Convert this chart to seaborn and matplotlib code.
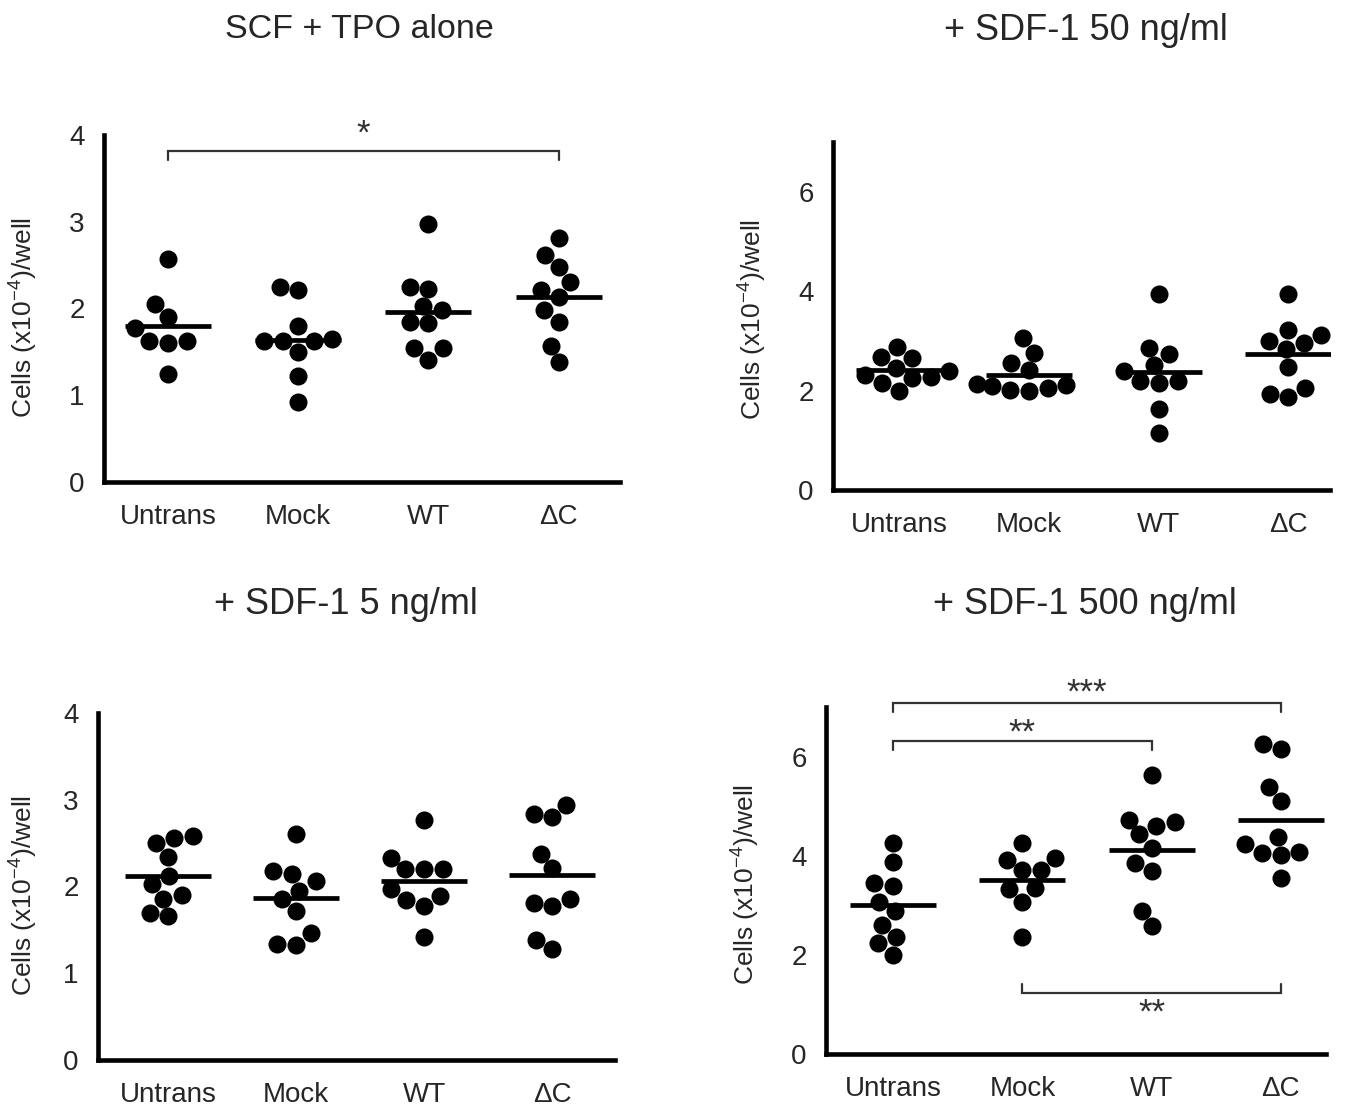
import numpy as np
import pandas as pd
import matplotlib
matplotlib.use("Agg")
import matplotlib.pyplot as plt
import seaborn as sns

# ---- data: cells (x10^-4) per well ----
groups = ["Untrans", "Mock", "WT", "ΔC"]

alone_untrans = [2.57, 2.05, 1.90, 1.77, 1.63, 1.60, 1.63, 1.24]
alone_mock = [2.21, 2.25, 1.80, 1.62, 1.65, 1.62, 1.62, 1.50, 1.22, 0.92]
alone_wt = [2.97, 2.23, 2.25, 2.03, 1.98, 1.85, 1.83, 1.54, 1.54, 1.41]
alone_dc = [2.81, 2.62, 2.48, 2.30, 2.21, 2.13, 1.98, 1.85, 1.57, 1.38]

sdf50_untrans = [2.88, 2.66, 2.68, 2.46, 2.32, 2.26, 2.27, 2.39, 2.16, 1.99]
sdf50_mock = [3.06, 2.76, 2.55, 2.41, 2.05, 2.12, 1.99, 2.09, 2.01, 2.14]
sdf50_wt = [3.94, 2.86, 2.73, 2.51, 2.39, 2.20, 2.16, 2.19, 1.63, 1.15]
sdf50_dc = [3.94, 3.11, 3.22, 2.96, 3.00, 2.83, 2.47, 2.05, 1.88, 1.93]

sdf5_untrans = [2.56, 2.58, 2.50, 2.34, 2.12, 2.03, 1.86, 1.90, 1.66, 1.70]
sdf5_mock = [2.60, 2.18, 2.14, 2.06, 1.95, 1.86, 1.72, 1.46, 1.33, 1.34]
sdf5_wt = [2.77, 2.33, 2.20, 2.20, 2.20, 1.97, 1.84, 1.89, 1.78, 1.42]
sdf5_dc = [2.94, 2.84, 2.80, 2.38, 2.21, 1.86, 1.78, 1.81, 1.38, 1.28]

sdf500_untrans = [4.26, 3.88, 3.45, 3.39, 3.07, 2.88, 2.61, 2.36, 2.23, 2.00]
sdf500_mock = [4.26, 3.91, 3.96, 3.71, 3.71, 3.32, 3.34, 3.07, 2.36]
sdf500_wt = [5.62, 4.68, 4.60, 4.73, 4.43, 4.15, 3.86, 3.70, 2.89, 2.58]
sdf500_dc = [6.25, 6.15, 5.38, 5.10, 4.37, 4.23, 4.05, 4.01, 4.08, 3.56]

titles = ["SCF + TPO alone", "+ SDF-1 50 ng/ml", "+ SDF-1 5 ng/ml", "+ SDF-1 500 ng/ml"]
y_max = [4, 7, 4, 7]
y_ticks = [[0, 1, 2, 3, 4], [0, 2, 4, 6], [0, 1, 2, 3, 4], [0, 2, 4, 6]]

# significance comparisons: (group a, group b, bracket height, side, label)
# side +1: label above the bracket, ticks pointing down; -1: label below, ticks up
sig_alone = [(0, 3, 3.81, 1, "*")]
sig_500 = [(0, 3, 7.08, 1, "***"), (0, 2, 6.31, 1, "**"), (1, 3, 1.24, -1, "**")]

panels = [
    [alone_untrans, alone_mock, alone_wt, alone_dc],
    [sdf50_untrans, sdf50_mock, sdf50_wt, sdf50_dc],
    [sdf5_untrans, sdf5_mock, sdf5_wt, sdf5_dc],
    [sdf500_untrans, sdf500_mock, sdf500_wt, sdf500_dc],
]
sigs = [sig_alone, [], [], sig_500]

# ---- figure layout (pixel geometry) ----
W, H, DPI = 1360, 1111, 100
sns.set_style("white")
plt.rcParams["font.family"] = ["Liberation Sans", "DejaVu Sans"]
plt.rcParams["mathtext.default"] = "regular"

fig = plt.figure(figsize=(W / DPI, H / DPI), dpi=DPI)

# left, right, bottom, top (pixels from top-left), xlim
frames = [
    (104, 620, 482, 135, (-0.49, 3.47)),
    (833, 1330, 490, 142, (-0.51, 3.32)),
    (98, 615, 1060, 713, (-0.55, 3.49)),
    (826, 1326, 1054, 707, (-0.52, 3.35)),
]
title_pos = [(359, 30), (1086, 30), (346, 605), (1085, 605)]
title_size = [24.5, 26, 26, 26]
ylabel_right = [40, 769, 40, 762]
ylabel_frac = [0.475, 0.49, 0.475, 0.49]

ink = "black"
star_ink = "#333333"
px = 72 / DPI  # points per pixel

for k, (data, (l, r, b, t, xl)) in enumerate(zip(panels, frames)):
    ax = fig.add_axes([l / W, 1 - b / H, (r - l) / W, (b - t) / H])
    df = pd.DataFrame({
        "group": np.repeat(groups, [len(v) for v in data]),
        "cells": np.concatenate(data),
    })
    sns.swarmplot(data=df, x="group", y="cells", order=groups, color=ink,
                  size=13, linewidth=0, ax=ax, zorder=3)
    sns.pointplot(data=df, x="group", y="cells", order=groups, color=ink,
                  estimator="mean", errorbar=None, marker="_", linestyle="none",
                  markersize=62, markeredgewidth=3.4, ax=ax, zorder=4)

    ax.set_xlim(*xl)
    ax.set_ylim(0, y_max[k])
    ax.set_yticks(y_ticks[k])
    ax.set_xlabel("")
    ax.set_ylabel("Cells (x10$^{-4}$)/well", fontsize=19)
    ax.yaxis.set_label_coords((ylabel_right[k] - l) / (r - l), ylabel_frac[k])
    for side in ("top", "right"):
        ax.spines[side].set_visible(False)
    for side in ("left", "bottom"):
        ax.spines[side].set_linewidth(3.3)
        ax.spines[side].set_color(ink)
    ax.tick_params(axis="y", length=9, width=3, color=ink, labelsize=20, pad=5)
    ax.tick_params(axis="x", length=7, width=3, color=ink, labelsize=20, pad=9)

    # bracket tick length: ~8 px in either panel height
    tick = 8.5 / (b - t) * y_max[k]
    for a, bb, h, side, lab in sigs[k]:
        ax.plot([a, a, bb, bb], [h - side * tick, h, h, h - side * tick],
                color=star_ink, lw=1.6, clip_on=False, solid_joinstyle="miter")
        # baseline offset (px) so the asterisks sit just clear of the bracket
        gap = {"*": 8, "**": -1, "***": 0}[lab] if side > 0 else -30
        ax.annotate(lab, xy=((a + bb) / 2, h), xytext=(0, gap * px),
                    textcoords="offset points", ha="center", va="baseline",
                    fontsize=25, color=star_ink, annotation_clip=False)

    tx, ty = title_pos[k]
    fig.text(tx / W, 1 - ty / H, titles[k], ha="center", va="center",
             fontsize=title_size[k])

fig.savefig("out.png", dpi=DPI)
